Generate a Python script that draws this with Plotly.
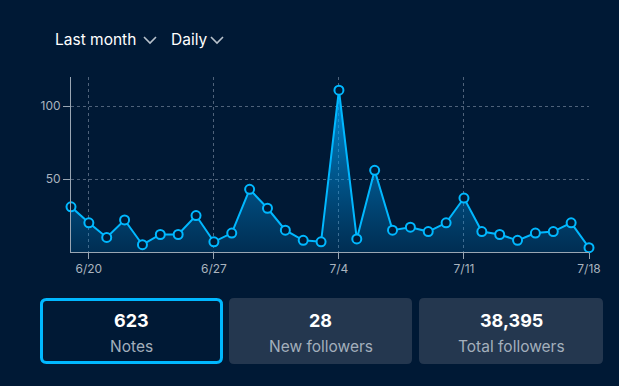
import plotly.graph_objects as go
import pandas as pd

dates = [d.strftime("%Y-%m-%d") for d in pd.date_range("2023-06-19", "2023-07-18", freq="D")]
notes = [31, 20, 10, 22, 5, 12, 12, 25, 7, 13, 43, 30, 15, 8, 7,
         111, 9, 56, 15, 17, 14, 20, 37, 14, 12, 8, 13, 14, 20, 3]
tick_dates = ["2023-06-20", "2023-06-27", "2023-07-04", "2023-07-11", "2023-07-18"]
tick_labels = ["6/20", "6/27", "7/4", "7/11", "7/18"]
y_ticks = [50, 100]
card_values = ["623", "28", "38,395"]
card_labels = ["Notes", "New followers", "Total followers"]
filters = ["Last month", "Daily"]

BG = "#001935"
BLUE = "#00b8ff"
W, H = 619, 386
L, R, T, B = 71, 589, 77, 252
FONT = "Inter"


def px(x):
    return (x - L) / (R - L)


def py(y):
    return (B - y) / (B - T)


fig = go.Figure()
fig.add_trace(go.Scatter(
    x=dates, y=notes, mode="lines+markers",
    line=dict(color=BLUE, width=2),
    marker=dict(size=9, color=BG, line=dict(color=BLUE, width=2)),
    fill="tozeroy",
    fillgradient=dict(type="vertical",
                      colorscale=[[0, "rgba(0,140,220,0.18)"], [1, "rgba(0,170,255,0.8)"]],
                      start=0, stop=max(notes)),
    cliponaxis=False, hoverinfo="x+y",
))

grid = "#4f627a"
fig.update_xaxes(
    range=[dates[0], dates[-1]], tickvals=tick_dates, ticktext=tick_labels,
    showgrid=True, gridcolor=grid, griddash="dot", gridwidth=1,
    showline=True, linecolor="#9aa6b3", linewidth=1,
    ticks="outside", ticklen=6, tickcolor="#9aa6b3",
    tickfont=dict(color="#aab4bf", size=12, family=FONT), zeroline=False,
)
fig.update_yaxes(
    range=[0, 120], tickvals=y_ticks,
    showgrid=True, gridcolor=grid, griddash="dot", gridwidth=1,
    showline=True, linecolor="#9aa6b3", linewidth=1,
    ticks="outside", ticklen=7, tickcolor="#9aa6b3",
    tickfont=dict(color="#aab4bf", size=12, family=FONT), zeroline=False,
)

shapes = []
annotations = []


def rrect(x0, y0, x1, y1, r):
    rx = r / (R - L)
    ry = r / (B - T)
    X0, X1 = px(x0), px(x1)
    Y0, Y1 = py(y0), py(y1)
    return (f"M {X0+rx},{Y0} L {X1-rx},{Y0} Q {X1},{Y0} {X1},{Y0-ry} "
            f"L {X1},{Y1+ry} Q {X1},{Y1} {X1-rx},{Y1} L {X0+rx},{Y1} "
            f"Q {X0},{Y1} {X0},{Y1+ry} L {X0},{Y0-ry} Q {X0},{Y0} {X0+rx},{Y0} Z")


cards = [(40, 298, 223, 364), (229, 298, 412, 364), (419, 298, 603, 364)]
for i, (x0, y0, x1, y1) in enumerate(cards):
    if i == 0:
        shapes.append(dict(type="path", xref="paper", yref="paper",
                           path=rrect(x0 + 1.5, y0 + 1.5, x1 - 1.5, y1 - 1.5, 5),
                           fillcolor=BG, line=dict(color=BLUE, width=3), layer="above"))
    else:
        shapes.append(dict(type="path", xref="paper", yref="paper",
                           path=rrect(x0, y0, x1, y1, 5),
                           fillcolor="#24374f", line=dict(width=0), layer="above"))
    cx = (x0 + x1) / 2
    annotations.append(dict(x=px(cx), y=py(320), xref="paper", yref="paper",
                            text=f"<b>{card_values[i]}</b>", showarrow=False,
                            font=dict(color="white", size=18, family=FONT),
                            xanchor="center", yanchor="middle"))
    annotations.append(dict(x=px(cx), y=py(346), xref="paper", yref="paper",
                            text=card_labels[i], showarrow=False,
                            font=dict(color="#a3afbc", size=15.5, family=FONT),
                            xanchor="center", yanchor="middle"))

fx = [53, 169]
chev_x = [150, 217]
for i, t in enumerate(filters):
    annotations.append(dict(x=px(fx[i]), y=py(40), xref="paper", yref="paper",
                            text=t, showarrow=False,
                            font=dict(color="white", size=15.5, family=FONT),
                            xanchor="left", yanchor="middle"))
    c = chev_x[i]
    shapes.append(dict(type="path", xref="paper", yref="paper",
                       path=f"M {px(c-6)},{py(37)} L {px(c)},{py(43)} L {px(c+6)},{py(37)}",
                       line=dict(color="#b8c2cc", width=1.6)))

fig.update_layout(
    width=W, height=H, margin=dict(l=L, r=W - R, t=T, b=H - B),
    paper_bgcolor=BG, plot_bgcolor=BG, showlegend=False,
    shapes=shapes, annotations=annotations,
    font=dict(family=FONT),
)
fig.write_html("out.html", config={"displayModeBar": False},
               post_script="document.body.style.margin='0';document.body.style.background='#001935';document.body.style.overflow='hidden';")
